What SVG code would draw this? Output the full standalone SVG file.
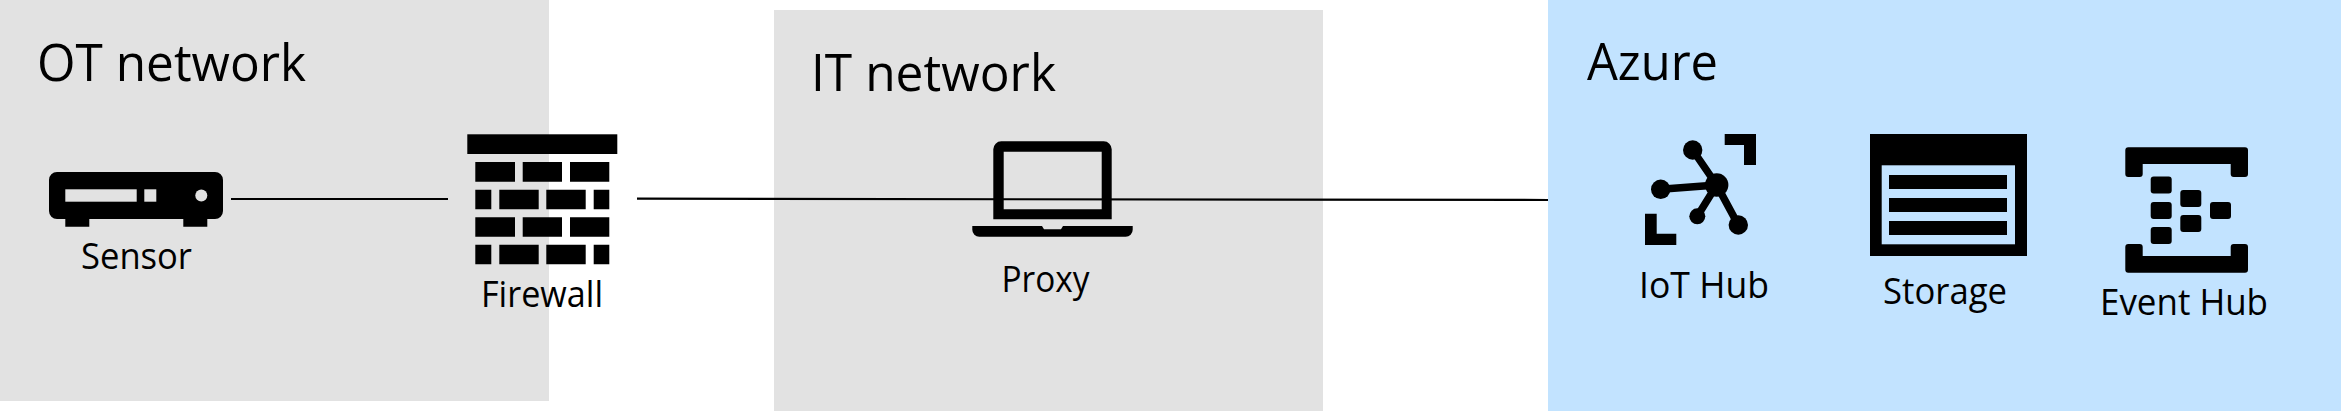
<svg xmlns="http://www.w3.org/2000/svg" width="2341" height="411" viewBox="0 0 2341 411">
<style>
text{font-family:"Open Sans","Noto Sans","Liberation Sans",sans-serif;fill:#000}
.t{font-size:52px}
.l{font-size:36px}
.zone{fill:#e2e2e2}
.az{fill:#c2e3ff}
.hole{fill:#e2e2e2}
.holeb{fill:#c2e3ff}
.link{stroke:#000;stroke-width:2.2;fill:none}
.spoke{stroke:#000;stroke-width:7.5;fill:none}
</style>
<defs>
<rect id="sq" width="21" height="17" rx="3"/>
</defs>
<g id="ot-network">
<rect class="zone" x="0" y="0" width="549" height="401"/>
<text class="t" x="37" y="81" textLength="269" lengthAdjust="spacingAndGlyphs">OT network</text>
</g>
<g id="it-network">
<rect class="zone" x="774" y="10" width="549" height="401"/>
<text class="t" x="811" y="91" textLength="245" lengthAdjust="spacingAndGlyphs">IT network</text>
</g>
<g id="azure">
<rect class="az" x="1548" y="0" width="793" height="411"/>
<text class="t" x="1587" y="80" textLength="131" lengthAdjust="spacingAndGlyphs">Azure</text>
</g>
<g id="connectors">
<line class="link" x1="231" y1="199" x2="448" y2="199"/>
<line class="link" x1="637" y1="198.7" x2="1548" y2="200"/>
</g>
<g id="sensor">
<path d="M57 172H215a8 8 0 0 1 8 8V211a8 8 0 0 1-8 8H207.300V226.700H183.300V219H89.300V226.700H65.300V219H57a8 8 0 0 1-8-8V180a8 8 0 0 1 8-8Z"/>
<rect class="hole" x="65.300" y="189.300" width="71.400" height="12.400"/>
<rect class="hole" x="144.300" y="189.300" width="12" height="12.400"/>
<circle class="hole" cx="201.300" cy="195.500" r="6"/>
<text class="l" x="81" y="269" textLength="111" lengthAdjust="spacingAndGlyphs">Sensor</text>
</g>
<g id="firewall">
<rect x="467.300" y="134.300" width="150" height="19.700"/>
<path d="M475.300 162H515V181.700H475.300ZM522.700 162H562V181.700H522.700ZM570 162H609.300V181.700H570Z"/>
<path d="M475.300 189.700H491.300V209.300H475.300ZM499.300 189.700H538.700V209.300H499.300ZM546.300 189.700H585.700V209.300H546.300ZM593.700 189.700H609.300V209.300H593.700Z"/>
<path d="M475.300 217.300H515V236.700H475.300ZM522.700 217.300H562V236.700H522.700ZM570 217.300H609.300V236.700H570Z"/>
<path d="M475.300 244.700H491.300V264.300H475.300ZM499.300 244.700H538.700V264.300H499.300ZM546.300 244.700H585.700V264.300H546.300ZM593.700 244.700H609.300V264.300H593.700Z"/>
<text class="l" x="481" y="307" textLength="122" lengthAdjust="spacingAndGlyphs">Firewall</text>
</g>
<g id="proxy">
<path fill-rule="evenodd" d="M1001.300 141.300H1103.700a8 8 0 0 1 8 8V219.300H993.300V149.300a8 8 0 0 1 8-8ZM1003.700 151.700V209.300H1101.700V151.700Z"/>
<path d="M972.300 226H1042L1044 229.300H1061L1063 226H1132.700V229.700a7 7 0 0 1-7 7H979.300a7 7 0 0 1-7-7Z"/>
<text class="l" x="1001.500" y="292" textLength="88" lengthAdjust="spacingAndGlyphs">Proxy</text>
</g>
<g id="iot-hub">
<path d="M1724.700 134H1756V165H1744V145H1724.700Z"/>
<path d="M1645 213.700H1656.700V233.700H1676.300V245H1645Z"/>
<path class="spoke" d="M1692.700 150L1716.700 185M1660.700 189.300L1716.700 185M1697.300 216.300L1716.700 185L1738.300 225"/>
<circle cx="1716.700" cy="185" r="11.700"/>
<circle cx="1692.700" cy="150" r="9.700"/>
<circle cx="1660.700" cy="189.300" r="9.700"/>
<circle cx="1697.300" cy="216.300" r="8"/>
<circle cx="1738.300" cy="225" r="9.700"/>
<text class="l" x="1639" y="298" textLength="130" lengthAdjust="spacingAndGlyphs">IoT Hub</text>
</g>
<g id="storage">
<rect x="1870" y="134" width="157" height="122"/>
<rect class="holeb" x="1881.700" y="165.300" width="133.300" height="79"/>
<path d="M1889 175H2007V189H1889ZM1889 198H2007V212H1889ZM1889 221H2007V235H1889Z"/>
<text class="l" x="1883" y="304" textLength="124" lengthAdjust="spacingAndGlyphs">Storage</text>
</g>
<g id="event-hub">
<path d="M2128 147.300H2245a3 3 0 0 1 3 3V174a3 3 0 0 1-3 3H2233.700a3 3 0 0 1-3-3V164H2142.700V174a3 3 0 0 1-3 3H2128.300a3 3 0 0 1-3-3V150.300a3 3 0 0 1 3-3Z"/>
<path d="M2128.300 244H2139.700a3 3 0 0 1 3 3V256H2230.700V247a3 3 0 0 1 3-3H2245a3 3 0 0 1 3 3V269.700a3 3 0 0 1-3 3H2128.300a3 3 0 0 1-3-3V247a3 3 0 0 1 3-3Z"/>
<use href="#sq" x="2150.700" y="176.500"/>
<use href="#sq" x="2150.700" y="202"/>
<use href="#sq" x="2150.700" y="227"/>
<use href="#sq" x="2180.300" y="190"/>
<use href="#sq" x="2180.300" y="215"/>
<use href="#sq" x="2210" y="202"/>
<text class="l" x="2100" y="315" textLength="168" lengthAdjust="spacingAndGlyphs">Event Hub</text>
</g>
</svg>
